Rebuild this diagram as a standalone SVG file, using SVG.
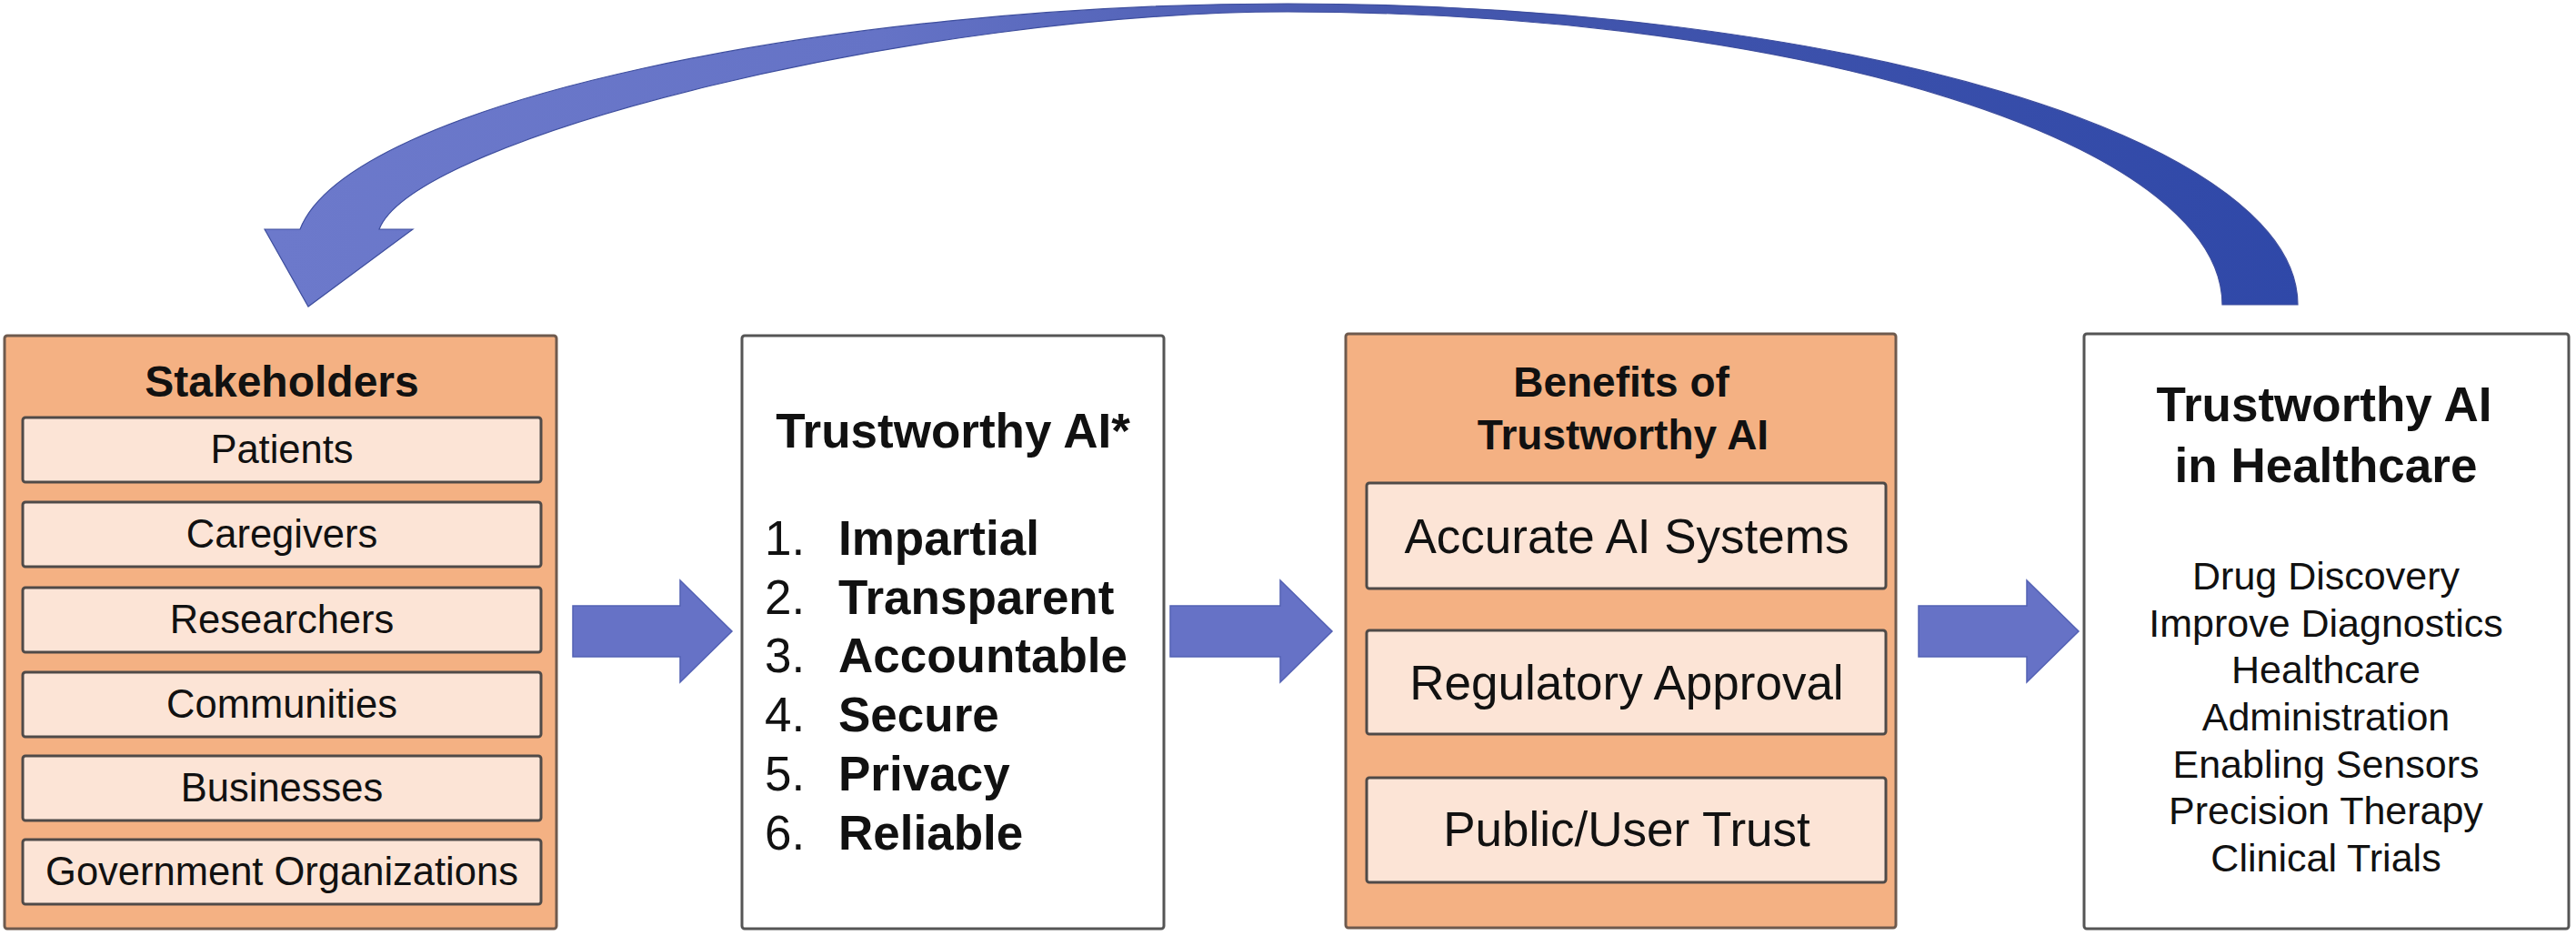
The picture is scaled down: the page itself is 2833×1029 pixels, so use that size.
<svg xmlns="http://www.w3.org/2000/svg" width="2833" height="1029" viewBox="0 0 2833 1029">
<defs>
<linearGradient id="curveGrad" gradientUnits="userSpaceOnUse" x1="300" y1="0" x2="2530" y2="0">
<stop offset="0" stop-color="#6C79CB"/>
<stop offset="0.3" stop-color="#6573C6"/>
<stop offset="0.55" stop-color="#4658AE"/>
<stop offset="1" stop-color="#2F48A8"/>
</linearGradient>
<style>
.orange{fill:#F4B183;stroke:#6E5A4E;stroke-width:3}
.white{fill:#FFFFFF;stroke:#555555;stroke-width:3}
.sub{fill:#FCE4D6;stroke:#4F4A48;stroke-width:3}
.arrow{fill:#6672C6;stroke:#5361B4;stroke-width:1.5}
text{font-family:"Liberation Sans",Arial,Helvetica,sans-serif;fill:#111111}
.t47b{font-size:48px;font-weight:bold;text-anchor:middle}
.t42{font-size:43.5px;text-anchor:middle}
.t43{font-size:43px;text-anchor:middle}
.t53b{font-size:53px;font-weight:bold}
.t53{font-size:53px}
.t46b{font-size:46px;font-weight:bold;text-anchor:middle}
.mid{text-anchor:middle}
</style>
</defs>
<rect width="2833" height="1029" fill="#FFFFFF"/>

<g id="connectors">
<path id="feedback-arrow" fill="url(#curveGrad)" stroke="#3E4E9E" stroke-width="1.2" d="M2527,335 A1111,331 0 0 0 1416,4 C916,4 384,112 330,252 L291,252 L339,337 L454,252 L417,252 C457,150 1016,13 1416,13 A1028,322 0 0 1 2444,335 Z"/>
<path id="arrow1" class="arrow" d="M630,666 L748,666 L748,638 L805,694 L748,750 L748,722 L630,722 Z"/>
<path id="arrow2" class="arrow" d="M1287,666 L1408,666 L1408,638 L1465,694 L1408,750 L1408,722 L1287,722 Z"/>
<path id="arrow3" class="arrow" d="M2110,666 L2229,666 L2229,638 L2286,694 L2229,750 L2229,722 L2110,722 Z"/>
</g>

<g id="stakeholders">
<rect class="orange" x="5" y="369" width="607" height="652" rx="3"/>
<text class="t47b" x="310" y="436">Stakeholders</text>
<rect class="sub" x="25" y="459" width="570" height="71" rx="3"/>
<text class="t42" x="310" y="509">Patients</text>
<rect class="sub" x="25" y="552" width="570" height="71" rx="3"/>
<text class="t42" x="310" y="602">Caregivers</text>
<rect class="sub" x="25" y="646" width="570" height="71" rx="3"/>
<text class="t42" x="310" y="696">Researchers</text>
<rect class="sub" x="25" y="739" width="570" height="71" rx="3"/>
<text class="t42" x="310" y="789">Communities</text>
<rect class="sub" x="25" y="831" width="570" height="71" rx="3"/>
<text class="t42" x="310" y="881">Businesses</text>
<rect class="sub" x="25" y="923" width="570" height="71" rx="3"/>
<text class="t42" x="310" y="973">Government Organizations</text>
</g>

<g id="trustworthy-ai">
<rect class="white" x="816" y="369" width="464" height="652" rx="3"/>
<text class="t53b mid" x="1048" y="492">Trustworthy AI*</text>
<text class="t53" x="841" y="610">1.</text><text class="t53b" x="922" y="610">Impartial</text>
<text class="t53" x="841" y="675">2.</text><text class="t53b" x="922" y="675">Transparent</text>
<text class="t53" x="841" y="739">3.</text><text class="t53b" x="922" y="739">Accountable</text>
<text class="t53" x="841" y="804">4.</text><text class="t53b" x="922" y="804">Secure</text>
<text class="t53" x="841" y="869">5.</text><text class="t53b" x="922" y="869">Privacy</text>
<text class="t53" x="841" y="934">6.</text><text class="t53b" x="922" y="934">Reliable</text>
</g>

<g id="benefits">
<rect class="orange" x="1480" y="367" width="605" height="653" rx="3"/>
<text class="t46b" x="1783" y="436">Benefits of</text>
<text class="t46b" x="1785" y="494">Trustworthy AI</text>
<rect class="sub" x="1503" y="531" width="571" height="116" rx="3"/>
<text class="t53 mid" x="1789" y="608">Accurate AI Systems</text>
<rect class="sub" x="1503" y="693" width="571" height="114" rx="3"/>
<text class="t53 mid" x="1789" y="769">Regulatory Approval</text>
<rect class="sub" x="1503" y="855" width="571" height="115" rx="3"/>
<text class="t53 mid" x="1789" y="930">Public/User Trust</text>
</g>

<g id="healthcare">
<rect class="white" x="2292" y="367" width="533" height="654" rx="3"/>
<text class="t53b mid" x="2556" y="463">Trustworthy AI</text>
<text class="t53b mid" x="2558" y="530">in Healthcare</text>
<text class="t43" x="2558" y="648">Drug Discovery</text>
<text class="t43" x="2558" y="700">Improve Diagnostics</text>
<text class="t43" x="2558" y="751">Healthcare</text>
<text class="t43" x="2558" y="803">Administration</text>
<text class="t43" x="2558" y="855">Enabling Sensors</text>
<text class="t43" x="2558" y="906">Precision Therapy</text>
<text class="t43" x="2558" y="958">Clinical Trials</text>
</g>
</svg>
